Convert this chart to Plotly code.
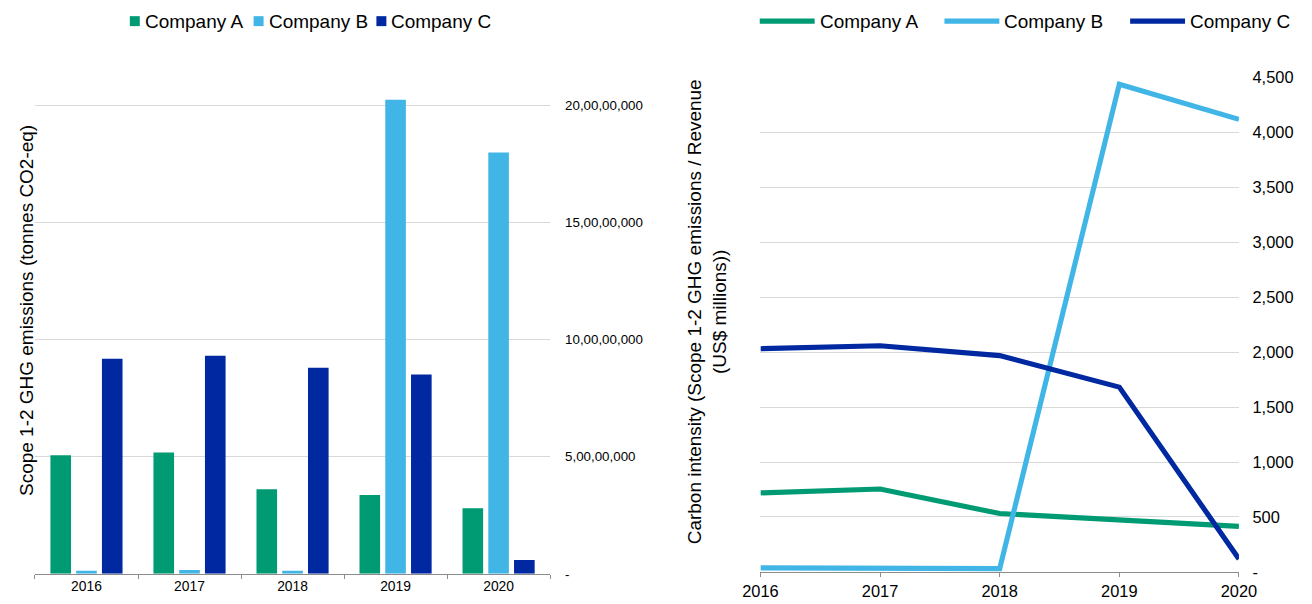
import plotly.graph_objects as go

years = ["2016", "2017", "2018", "2019", "2020"]
year_nums = [2016, 2017, 2018, 2019, 2020]
companies = ["Company A", "Company B", "Company C"]

emissions_a = [5.06e7, 5.18e7, 3.61e7, 3.36e7, 2.80e7]
emissions_b = [1.3e6, 1.6e6, 1.3e6, 2.022e8, 1.797e8]
emissions_c = [9.18e7, 9.30e7, 8.79e7, 8.50e7, 5.9e6]

intensity_a = [719, 755, 531, 477, 414]
intensity_b = [36, 36, 30, 4440, 4120]
intensity_c = [2032, 2059, 1969, 1682, 117]

left_tickvals = [0, 5e7, 1e8, 1.5e8, 2e8]
left_ticktext = ["-", "5,00,00,000", "10,00,00,000", "15,00,00,000", "20,00,00,000"]
right_tickvals = [0, 500, 1000, 1500, 2000, 2500, 3000, 3500, 4000, 4500]
right_ticktext = ["-", "500", "1,000", "1,500", "2,000", "2,500", "3,000", "3,500", "4,000", "4,500"]

colors = ["#009A73", "#41B6E6", "#0028A0"]

W, H = 1312, 604
# The photographed page is shown slightly reduced (body margin + fit), so the layout is
# laid out in photo pixels and converted back to figure pixels.
S, OX, OY = 0.9742, 17.0, 7.8
FONT = "Liberation Sans, Arial, sans-serif"
GRID = "#d9d9d9"
AXIS = "#8c8c8c"
CLEAR = "rgba(0,0,0,0)"


def fx(px):
    return (px - OX) / S / W


def fy(py):
    return 1 - (py - OY) / S / H


def sz(v):
    return v / S


fig = go.Figure()

for name, vals, col in zip(companies, [emissions_a, emissions_b, emissions_c], colors):
    fig.add_trace(go.Bar(x=years, y=vals, name=name, marker=dict(color=col, line=dict(width=0)),
                         xaxis="x", yaxis="y", showlegend=False))

for name, vals, col in zip(companies, [intensity_a, intensity_b, intensity_c], colors):
    fig.add_trace(go.Scatter(x=year_nums, y=vals, name=name, mode="lines",
                             line=dict(color=col, width=sz(5)), xaxis="x2", yaxis="y2",
                             showlegend=False))

fig.update_layout(
    width=W, height=H,
    margin=dict(l=0, r=0, t=0, b=0, pad=0),
    paper_bgcolor="white", plot_bgcolor="white",
    font=dict(family=FONT, color="#000000"),
    barmode="group", bargap=0.25, bargroupgap=0.2,
    xaxis=dict(domain=[fx(34), fx(550)], type="category", categoryorder="array",
               categoryarray=years, showline=True, linecolor=AXIS, linewidth=1,
               ticks="outside", tickson="boundaries", ticklen=sz(4), tickcolor=AXIS,
               showgrid=False, tickfont=dict(size=sz(13.5)), anchor="y"),
    yaxis=dict(domain=[fy(575), fy(575 - 4.1 * 117.7)], range=[0, 2.05e8], side="right",
               anchor="x", tickvals=left_tickvals, ticktext=left_ticktext,
               showgrid=True, gridcolor=GRID, gridwidth=1, zeroline=False, showline=False,
               ticks="outside", ticklen=sz(11), tickcolor=CLEAR, tickfont=dict(size=sz(13))),
    xaxis2=dict(domain=[fx(760.7), fx(1240)], range=[2016, 2020], tickvals=year_nums,
                ticktext=years, showline=True, linecolor=AXIS, linewidth=1,
                ticks="outside", ticklen=sz(4), tickcolor=AXIS, showgrid=False,
                tickfont=dict(size=sz(16)), anchor="y2"),
    yaxis2=dict(domain=[fy(573), fy(76.7)], range=[0, 4500], side="right", anchor="x2",
                tickvals=right_tickvals, ticktext=right_ticktext,
                showgrid=True, gridcolor=GRID, gridwidth=1, zeroline=False, showline=False,
                ticks="outside", ticklen=sz(9), tickcolor=CLEAR, tickfont=dict(size=sz(16))),
)

annotations = [
    dict(text="Scope 1-2 GHG emissions (tonnes CO2-eq)", x=fx(26), y=fy(310),
         xref="paper", yref="paper", showarrow=False, textangle=-90,
         font=dict(size=sz(18.5)), xanchor="center", yanchor="middle"),
    dict(text="Carbon intensity (Scope 1-2 GHG emissions / Revenue<br>(US$ millions))",
         x=fx(707.5), y=fy(312), xref="paper", yref="paper", showarrow=False,
         textangle=-90, font=dict(size=sz(18.5)), xanchor="center", yanchor="middle"),
]
shapes = []

# Left legend (square swatches)
left_sq = [129, 253, 376]
for name, col, sx in zip(companies, colors, left_sq):
    shapes.append(dict(type="rect", xref="paper", yref="paper", x0=fx(sx), x1=fx(sx + 10),
                       y0=fy(25), y1=fy(15), fillcolor=col, line=dict(width=0)))
    annotations.append(dict(text=name, x=fx(sx + 13), y=fy(20), xref="paper", yref="paper",
                            showarrow=False, xanchor="left", yanchor="middle",
                            font=dict(size=sz(18.5))))

# Right legend (line swatches)
right_ln = [760, 945, 1131]
for name, col, sx in zip(companies, colors, right_ln):
    shapes.append(dict(type="line", xref="paper", yref="paper", x0=fx(sx), x1=fx(sx + 55),
                       y0=fy(20), y1=fy(20), line=dict(color=col, width=sz(5))))
    annotations.append(dict(text=name, x=fx(sx + 58), y=fy(20), xref="paper", yref="paper",
                            showarrow=False, xanchor="left", yanchor="middle",
                            font=dict(size=sz(18.5))))

fig.update_layout(annotations=annotations, shapes=shapes)

fig.write_html("out.html", config={"displayModeBar": False})
